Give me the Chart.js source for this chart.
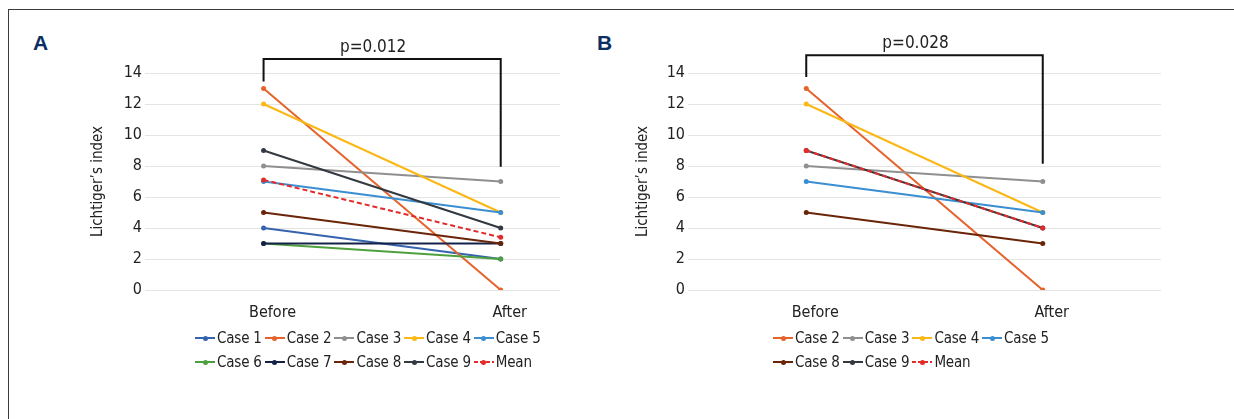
<!DOCTYPE html>
<html>
<head>
<meta charset="utf-8">
<script src="https://cdn.jsdelivr.net/npm/chart.js@4.4.1/dist/chart.umd.min.js"></script>
<style>
  body { margin: 0; width: 1234px; height: 419px; background: #fff; position: relative; overflow: hidden;
    font-family: "DejaVu Sans Condensed", "Liberation Sans Narrow", sans-serif; color: #222; }
  #frame { position: absolute; left: 8px; top: 9px; width: 1300px; height: 500px; border: 1px solid #3c3c3c; }
  .tag { position: absolute; top: 32px; font: bold 21px "Liberation Sans", Arial, sans-serif; line-height: 21px; color: #0b2f63; }
  .wrap { position: absolute; top: 0; height: 419px; }
  .legend { position: absolute; top: 326px; font-size: 15px; letter-spacing: -0.2px; }
  .legend .row { display: flex; height: 24px; align-items: center; white-space: nowrap; }
  .legend .item { display: flex; align-items: center; margin-right: 3px; }
  .legend .mark { position: relative; width: 20px; height: 2px; margin-right: 2px; }
  .legend .mark i { position: absolute; left: 7.5px; top: -1.5px; width: 5px; height: 5px; border-radius: 50%; }
</style>
</head>
<body>
<div id="frame"></div>
<div class="tag" style="left:33px">A</div>
<div class="tag" style="left:597px">B</div>
<div class="wrap" style="left:0;width:600px"><canvas id="chartA"></canvas></div>
<div class="wrap" style="left:600px;width:634px"><canvas id="chartB"></canvas></div>
<div class="legend" id="legendA" style="left:195px"></div>
<div class="legend" id="legendB" style="left:773px"></div>
<script>
  // values
  const categories = ['Before', 'After'];
  const case1 = [4, 2];
  const case2 = [13, 0];
  const case3 = [8, 7];
  const case4 = [12, 5];
  const case5 = [7, 5];
  const case6 = [3, 2];
  const case7 = [3, 3];
  const case8 = [5, 3];
  const case9 = [9, 4];
  const meanA = [7.1, 3.4];
  const meanB = [9, 4];
  const yMin = 0;
  const yMax = 14;
  const yStep = 2;

  const FONT = '"DejaVu Sans Condensed", "Liberation Sans Narrow", sans-serif';

  const colors = {
    'Case 1': '#3563ad',
    'Case 2': '#e5622b',
    'Case 3': '#8f8f8f',
    'Case 4': '#fbb714',
    'Case 5': '#3b8ed0',
    'Case 6': '#4ea03f',
    'Case 7': '#14224a',
    'Case 8': '#6a2408',
    'Case 9': '#333940',
    'Mean': '#e32b2b',
  };

  const series = (name, values) => ({
    label: name,
    data: values.map((v, i) => ({ x: i, y: v })),
    borderColor: colors[name],
    backgroundColor: colors[name],
    borderWidth: 2,
    borderDash: name === 'Mean' ? [5, 3] : [],
    pointRadius: 2.5,
    pointHoverRadius: 2.5,
    pointBorderWidth: 0,
  });

  const bracketPlugin = {
    id: 'bracket',
    afterDraw(chart, args, opts) {
      const { ctx } = chart;
      const { x, y } = chart.scales;
      const x0 = x.getPixelForValue(0);
      const x1 = x.getPixelForValue(1);
      const top = y.getPixelForValue(opts.top);
      ctx.save();
      ctx.strokeStyle = '#111';
      ctx.lineWidth = 2;
      ctx.beginPath();
      ctx.moveTo(x0, y.getPixelForValue(opts.leftEnd));
      ctx.lineTo(x0, top);
      ctx.lineTo(x1, top);
      ctx.lineTo(x1, y.getPixelForValue(opts.rightEnd));
      ctx.stroke();
      ctx.font = '17px ' + FONT;
      ctx.fillStyle = '#222';
      ctx.textAlign = 'center';
      ctx.fillText(opts.text, (x0 + x1) / 2 - 9, top - 7);
      ctx.restore();
    },
  };

  const makeChart = (id, datasets, cfg) => {
    const n = datasets.length;
    datasets.forEach((d, i) => { d.order = n - i; });
    return new Chart(document.getElementById(id), {
      type: 'line',
      data: { datasets },
      plugins: [bracketPlugin],
      options: {
        responsive: true,
        maintainAspectRatio: false,
        animation: false,
        layout: { padding: cfg.padding },
        plugins: {
          legend: { display: false },
          tooltip: { enabled: false },
          bracket: cfg.bracket,
        },
        scales: {
          x: {
            type: 'linear',
            min: -0.5,
            max: cfg.xMax,
            grid: { display: false },
            border: { display: false },
            afterBuildTicks: (s) => { s.ticks = categories.map((c, i) => ({ value: i })); },
            afterFit: (s) => { s.height = 40; },
            ticks: {
              autoSkip: false,
              maxRotation: 0,
              labelOffset: 9,
              padding: 5,
              color: '#222',
              font: { family: FONT, size: 16 },
              callback: (v) => categories[v] ?? '',
            },
          },
          y: {
            min: yMin,
            max: yMax,
            grid: { color: '#e4e4e4', drawTicks: false },
            border: { display: false },
            afterFit: (s) => { s.width = cfg.yWidth; },
            ticks: {
              stepSize: yStep,
              padding: 3,
              color: '#222',
              font: { family: FONT, size: 16 },
            },
            title: {
              display: true,
              text: 'Lichtiger’s index',
              color: '#222',
              font: { family: FONT, size: 15 },
              padding: { top: 4, bottom: 0 },
            },
          },
        },
      },
    });
  };

  const namesA = ['Case 1', 'Case 2', 'Case 3', 'Case 4', 'Case 5', 'Case 6', 'Case 7', 'Case 8', 'Case 9', 'Mean'];
  const valuesA = [case1, case2, case3, case4, case5, case6, case7, case8, case9, meanA];
  const namesB = ['Case 2', 'Case 3', 'Case 4', 'Case 5', 'Case 8', 'Case 9', 'Mean'];
  const valuesB = [case2, case3, case4, case5, case8, case9, meanB];

  makeChart('chartA', namesA.map((nm, i) => series(nm, valuesA[i])), {
    padding: { left: 85, right: 40, top: 73, bottom: 89 },
    yWidth: 60,
    xMax: 1.25,
    bracket: { text: 'p=0.012', top: 14.9, leftEnd: 13.45, rightEnd: 7.95 },
  });

  makeChart('chartB', namesB.map((nm, i) => series(nm, valuesB[i])), {
    padding: { left: 30, right: 73, top: 73, bottom: 89 },
    yWidth: 58,
    xMax: 1.5,
    bracket: { text: 'p=0.028', top: 15.15, leftEnd: 13.75, rightEnd: 8.15 },
  });

  const buildLegend = (id, rows) => {
    const el = document.getElementById(id);
    rows.forEach((row) => {
      const r = document.createElement('div');
      r.className = 'row';
      row.forEach((nm) => {
        const c = colors[nm];
        const line = nm === 'Mean'
          ? `background:repeating-linear-gradient(90deg,${c} 0 4px,transparent 4px 6px)`
          : `background:${c}`;
        const item = document.createElement('div');
        item.className = 'item';
        item.innerHTML = `<span class="mark" style="${line}"><i style="background:${c}"></i></span><span>${nm}</span>`;
        r.appendChild(item);
      });
      el.appendChild(r);
    });
  };

  buildLegend('legendA', [namesA.slice(0, 5), namesA.slice(5)]);
  buildLegend('legendB', [namesB.slice(0, 4), namesB.slice(4)]);
</script>
</body>
</html>
